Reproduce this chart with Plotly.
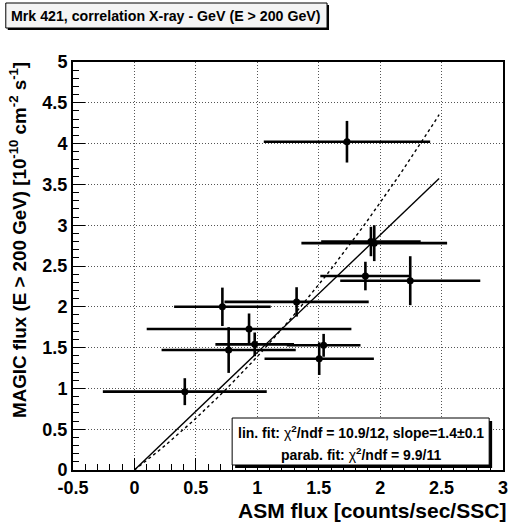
import plotly.graph_objects as go
import numpy as np

# ---- data ----
asm_flux = [0.41, 0.716, 1.32, 0.933, 0.767, 0.979, 1.54, 1.504, 1.88, 2.245, 1.925, 1.952, 1.73]
magic_flux = [0.96, 2.00, 2.06, 1.728, 1.47, 1.54, 1.528, 1.364, 2.377, 2.32, 2.80, 2.78, 4.023]
asm_err = [0.667, 0.393, 0.587, 0.833, 0.546, 0.32, 0.30, 0.445, 0.367, 0.57, 0.405, 0.593, 0.677]
magic_err = [0.165, 0.235, 0.18, 0.19, 0.28, 0.145, 0.14, 0.20, 0.175, 0.30, 0.18, 0.22, 0.255]

# fit parameters (through origin)
lin_slope = 1.44
parab_a = 1.143
parab_b = 0.247
fit_range = [0.0, 2.48]

x_ticks = [-0.5, 0, 0.5, 1, 1.5, 2, 2.5, 3]
x_ticklabels = ["-0.5", "0", "0.5", "1", "1.5", "2", "2.5", "3"]
y_ticks = [0, 0.5, 1, 1.5, 2, 2.5, 3, 3.5, 4, 4.5, 5]
y_ticklabels = ["0", "0.5", "1", "1.5", "2", "2.5", "3", "3.5", "4", "4.5", "5"]

FONT = "Liberation Sans"
W, H = 515, 522
L, R, T, B = 73, 7, 62, 52
PW, PH = W - L - R, H - T - B

def px2paper(px, py):
    return (px - L) / PW, (H - B - py) / PH

fig = go.Figure()

xf = np.linspace(fit_range[0], fit_range[1], 60)
fig.add_trace(go.Scatter(x=[fit_range[0], fit_range[1]],
                         y=[lin_slope * fit_range[0], lin_slope * fit_range[1]],
                         mode="lines", line=dict(color="black", width=1.4),
                         showlegend=False, hoverinfo="skip"))
fig.add_trace(go.Scatter(x=xf, y=parab_a * xf + parab_b * xf ** 2,
                         mode="lines", line=dict(color="black", width=1.4, dash="3px,3px"),
                         showlegend=False, hoverinfo="skip"))

fig.add_trace(go.Scatter(
    x=asm_flux, y=magic_flux, mode="markers",
    marker=dict(color="black", size=7, symbol="circle"),
    error_x=dict(type="data", array=asm_err, color="black", thickness=2.6, width=0),
    error_y=dict(type="data", array=magic_err, color="black", thickness=2.6, width=0),
    showlegend=False))

axis_common = dict(
    showgrid=True, gridcolor="#555", griddash="1px,2px", gridwidth=1,
    zeroline=False, showline=True, linecolor="black", linewidth=2, mirror=True,
    ticks="inside", ticklen=12, tickwidth=1, tickcolor="black",
    tickfont=dict(family=FONT, size=18, color="black", weight="bold"),
    minor=dict(ticks="inside", ticklen=6, tickwidth=1, tickcolor="black", dtick=0.1, showgrid=False),
)

fig.update_xaxes(range=[-0.5, 3], tickvals=x_ticks, ticktext=x_ticklabels, **axis_common)
fig.update_yaxes(range=[0, 5], tickvals=y_ticks, ticktext=y_ticklabels, **axis_common)

shapes = []
annotations = []

# title box
x0, y0 = px2paper(7, 30)
x1, y1 = px2paper(332, 5)
shapes.append(dict(type="rect", xref="paper", yref="paper", x0=x0, y0=y0, x1=x1, y1=y1,
                   fillcolor="black", line=dict(width=0), layer="above"))
x0, y0 = px2paper(5, 28)
x1, y1 = px2paper(330, 3)
shapes.append(dict(type="rect", xref="paper", yref="paper", x0=x0, y0=y0, x1=x1, y1=y1,
                   fillcolor="#f4f4f4", line=dict(color="black", width=1), layer="above"))
tx, ty = px2paper(167, 16)
annotations.append(dict(text="Mrk 421, correlation X-ray - GeV (E > 200 GeV)", xref="paper", yref="paper",
                        x=tx, y=ty, showarrow=False, xanchor="center", yanchor="middle",
                        font=dict(family=FONT, size=14.2, color="black", weight="bold")))

# legend box
x0, y0 = px2paper(237, 468)
x1, y1 = px2paper(497, 421)
shapes.append(dict(type="rect", xref="paper", yref="paper", x0=x0, y0=y0, x1=x1, y1=y1,
                   fillcolor="black", line=dict(width=0), layer="above"))
x0, y0 = px2paper(234, 465)
x1, y1 = px2paper(494, 418)
shapes.append(dict(type="rect", xref="paper", yref="paper", x0=x0, y0=y0, x1=x1, y1=y1,
                   fillcolor="white", line=dict(color="black", width=1), layer="above"))
lx, ly = px2paper(364, 432)
annotations.append(dict(text="lin. fit: <span style='font-weight:normal'>χ</span><sup>2</sup>/ndf = 10.9/12, slope=1.4±0.1",
                        xref="paper", yref="paper", x=lx, y=ly, showarrow=False,
                        xanchor="center", yanchor="middle",
                        font=dict(family=FONT, size=14, color="black", weight="bold")))
lx, ly = px2paper(364, 454)
annotations.append(dict(text="parab. fit: <span style='font-weight:normal'>χ</span><sup>2</sup>/ndf = 9.9/11",
                        xref="paper", yref="paper", x=lx, y=ly, showarrow=False,
                        xanchor="center", yanchor="middle",
                        font=dict(family=FONT, size=14, color="black", weight="bold")))

# axis titles
annotations.append(dict(text="ASM flux [counts/sec/SSC]", xref="paper", yref="paper",
                        x=1, y=0, xanchor="right", yanchor="top", xshift=5, yshift=-27, showarrow=False,
                        font=dict(family=FONT, size=21, color="black", weight="bold")))
annotations.append(dict(text="MAGIC flux (E > 200 GeV) [10<sup>-10</sup> cm<sup>-2</sup> s<sup>-1</sup>]",
                        xref="paper", yref="paper", x=0, y=1, xanchor="center", yanchor="top",
                        xshift=-55, yshift=2, textangle=-90, showarrow=False,
                        font=dict(family=FONT, size=18.8, color="black", weight="bold")))

fig.update_layout(
    width=W, height=H, margin=dict(l=L, r=R, t=T, b=B),
    paper_bgcolor="white", plot_bgcolor="white",
    shapes=shapes, annotations=annotations, showlegend=False,
    font=dict(family=FONT, color="black"),
)

fig.write_html("out.html", config={"displayModeBar": False},
               post_script="document.body.style.margin='0px';document.body.style.overflow='hidden';")
